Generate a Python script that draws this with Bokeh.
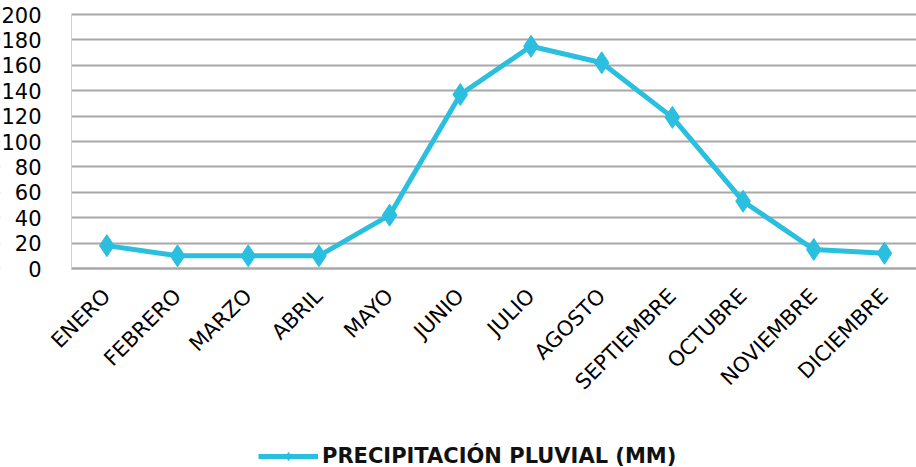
from bokeh.plotting import figure
from bokeh.models import (Range1d, FixedTicker, Legend, LegendItem, ColumnDataSource,
                          BoxAnnotation)
from bokeh.embed import file_html
from bokeh.resources import INLINE
import math

months = ["ENERO", "FEBRERO", "MARZO", "ABRIL", "MAYO", "JUNIO", "JULIO",
          "AGOSTO", "SEPTIEMBRE", "OCTUBRE", "NOVIEMBRE", "DICIEMBRE"]
precip = [18, 10, 10, 10, 42, 137, 175, 162, 119, 53, 15, 12]
y_ticks = [0, 20, 40, 60, 80, 100, 120, 140, 160, 180, 200]
series_name = "PRECIPITACIÓN PLUVIAL (MM)"

FONT = "DejaVu Sans"
COLOR = "#2ABFDF"
GRID = "#A8A8A8"

# layout: plotting band is 254 px tall (0..200), starts 14 px from the top and
# 71 px from the left; the frame spans the whole canvas so that tick labels and
# the legend are drawn inside it
BAND_PX = 254
TOP_PAD = 14
FRAME_PX = 474
FRAME_W = 916
LEFT_PAD = 71
PX_PER_CAT = 837 / 11.84
UNIT_PER_PX = 200 / BAND_PX
y_end = 200 + TOP_PAD * UNIT_PER_PX
y_min = y_end - FRAME_PX * UNIT_PER_PX
x_left_edge = -0.5
x_start = x_left_edge - LEFT_PAD / PX_PER_CAT
x_end = x_start + FRAME_W / PX_PER_CAT

idx = list(range(len(months)))
src = ColumnDataSource(dict(x=idx, y=precip))

p = figure(frame_width=FRAME_W, frame_height=FRAME_PX, output_backend="svg",
           toolbar_location=None,
           x_range=Range1d(x_start, x_end), y_range=Range1d(y_min, y_end),
           min_border_top=0, min_border_left=0, min_border_right=0,
           min_border_bottom=0)
p.outline_line_color = None
p.background_fill_color = "white"
p.border_fill_color = "white"

# hide grid lines left of the plotting band
p.add_layout(BoxAnnotation(right=x_left_edge, fill_color="white", fill_alpha=1,
                           line_color=None, level="underlay"))

ln = p.line("x", "y", source=src, line_color=COLOR, line_width=5)
sc = p.scatter("x", "y", source=src, marker="diamond", size=22, fill_color=COLOR,
               line_color=COLOR)

# axes
p.xaxis.fixed_location = 0
p.xaxis.bounds = (x_left_edge, x_end)
p.xaxis.ticker = FixedTicker(ticks=idx)
p.xaxis.major_label_overrides = {i: m for i, m in enumerate(months)}
p.xaxis.major_label_orientation = math.pi / 4
p.xaxis.major_label_text_font = FONT
p.xaxis.major_label_text_font_size = "21px"
p.xaxis.major_label_text_color = "black"
p.xaxis.major_label_standoff = 18
p.xaxis.major_tick_line_color = None
p.xaxis.minor_tick_line_color = None
p.xaxis.axis_line_color = GRID
p.xaxis.axis_line_width = 2

p.yaxis.fixed_location = x_left_edge
p.yaxis.ticker = FixedTicker(ticks=y_ticks)
p.yaxis.bounds = (0, 200)
p.yaxis.major_label_text_font = FONT
p.yaxis.major_label_text_font_size = "21px"
p.yaxis.major_label_text_color = "black"
p.yaxis.major_label_standoff = 24
p.yaxis.major_tick_line_color = None
p.yaxis.minor_tick_line_color = None
p.yaxis.axis_line_color = "#D0D0D0"
p.yaxis.axis_line_width = 1

p.xgrid.grid_line_color = None
p.ygrid.grid_line_color = GRID
p.ygrid.grid_line_width = 2

legend = Legend(items=[LegendItem(label=series_name, renderers=[ln, sc])],
                location=(258, 6), orientation="horizontal",
                label_text_font=FONT, label_text_font_style="bold",
                label_text_font_size="21px", label_text_color="#111111",
                glyph_width=60, glyph_height=20, border_line_color=None,
                background_fill_alpha=0, margin=0, padding=2, spacing=0,
                label_standoff=4)
p.add_layout(legend, "center")

open("out.html", "w").write(file_html(p, INLINE))
